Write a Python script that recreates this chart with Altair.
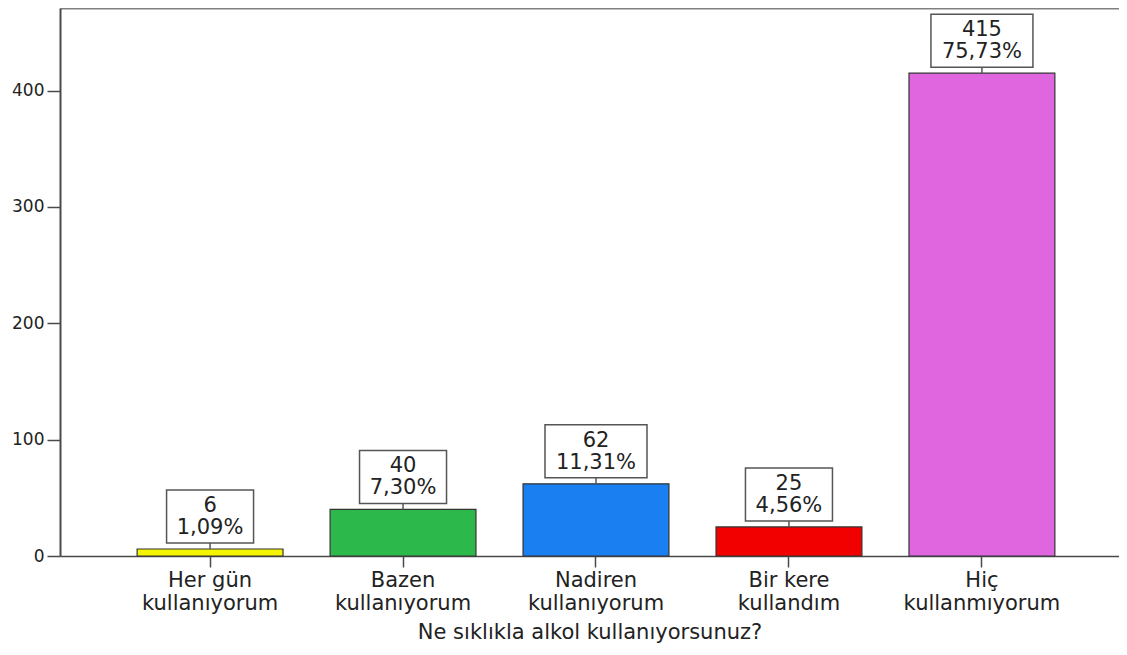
import altair as alt
import pandas as pd

categories = ["Her gün\nkullanıyorum", "Bazen\nkullanıyorum", "Nadiren\nkullanıyorum",
              "Bir kere\nkullandım", "Hiç\nkullanmıyorum"]
counts = [6, 40, 62, 25, 415]
percents = ["1,09%", "7,30%", "11,31%", "4,56%", "75,73%"]
colors = ["#f5f500", "#2db84b", "#1a7ff0", "#f20000", "#e066e0"]
y_ticks = [0, 100, 200, 300, 400]
x_title = "Ne sıklıkla alkol kullanıyorsunuz?"

df = pd.DataFrame({"cat": categories, "count": counts, "pct": percents})

FONT = "DejaVu Sans"
xscale = alt.Scale(domain=categories, paddingInner=0.244, paddingOuter=0.366, align=0.546)
yscale = alt.Scale(domain=[0, 471], nice=False, zero=True)

y_axis = alt.Axis(title=None, values=y_ticks, grid=False,
                  labelFont=FONT, labelFontSize=17, labelColor="#222222",
                  labelPadding=3, tickSize=13, tickWidth=1.5,
                  tickColor="#4a4a4a", domainColor="#4a4a4a", domainWidth=2)

base = alt.Chart(df)

bars = base.mark_bar(stroke="#333333", strokeWidth=1.2).encode(
    x=alt.X("cat:N", sort=categories, scale=xscale,
            axis=alt.Axis(title=x_title, orient="bottom", labelAngle=0,
                          labelExpr="split(datum.label, '\\n')",
                          labelFontSize=21, labelFont=FONT, labelLineHeight=23,
                          labelColor="#222222", labelPadding=2, labelBaseline="top",
                          tickSize=11, tickWidth=1.5, tickColor="#4a4a4a",
                          domainColor="#4a4a4a", domainWidth=1.5,
                          titleFont=FONT, titleFontSize=21, titleFontWeight="normal",
                          titleColor="#222222", titlePadding=8)),
    y=alt.Y("count:Q", scale=yscale, axis=y_axis),
    color=alt.Color("cat:N", sort=categories,
                    scale=alt.Scale(domain=categories, range=colors), legend=None),
)

connector = base.mark_rule(color="#555555", strokeWidth=1.5, y2Offset=-6).encode(
    x=alt.X("cat:N", sort=categories, scale=xscale,
            axis=alt.Axis(orient="top", labels=False, ticks=False, title=None,
                          domainColor="#808080", domainWidth=2)),
    y=alt.Y("count:Q", scale=yscale, axis=y_axis),
    y2="count:Q",
)

narrow = base.transform_filter("length(datum.pct) <= 5").mark_bar(
    width=87, fill="white", stroke="#555555", strokeWidth=1.5,
    yOffset=-6, y2Offset=-59).encode(
    x=alt.X("cat:N", sort=categories, scale=xscale, axis=None),
    y=alt.Y("count:Q", scale=yscale, axis=y_axis),
    y2="count:Q",
)

wide = base.transform_filter("length(datum.pct) > 5").mark_bar(
    width=102, fill="white", stroke="#555555", strokeWidth=1.5,
    yOffset=-6, y2Offset=-59).encode(
    x=alt.X("cat:N", sort=categories, scale=xscale, axis=None),
    y=alt.Y("count:Q", scale=yscale, axis=y_axis),
    y2="count:Q",
)

labels = base.transform_calculate(
    lbl="[toString(datum.count), datum.pct]"
).mark_text(font=FONT, fontSize=21, lineHeight=22, baseline="middle",
            color="#222222", yOffset=-43).encode(
    x=alt.X("cat:N", sort=categories, scale=xscale, axis=None),
    y=alt.Y("count:Q", scale=yscale, axis=y_axis),
    text="lbl:N",
)

chart = alt.layer(bars, connector, narrow, wide, labels).resolve_axis(
    x="independent"
).properties(
    width=1059, height=548,
    autosize=alt.AutoSizeParams(type="none"),
    padding={"left": 52, "top": 0, "right": 0, "bottom": 88},
).configure_view(stroke=None).configure(background="white")

chart.save("out.html", embed_options={"renderer": "svg", "actions": False})
